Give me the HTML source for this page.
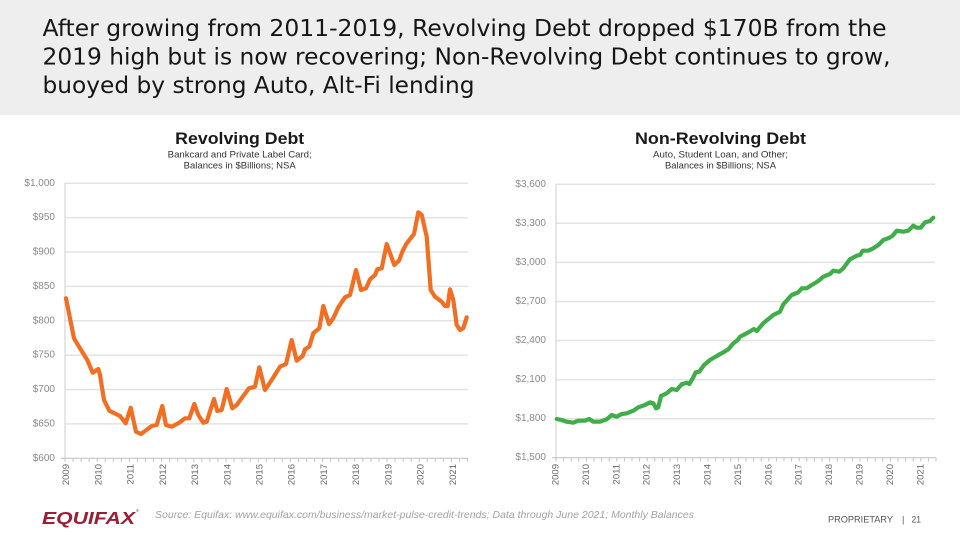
<!DOCTYPE html>
<html>
<head>
<meta charset="utf-8">
<style>
  html,body{margin:0;padding:0;background:#fff;}
  body{width:960px;height:540px;overflow:hidden;}
  svg{display:block;}
  text{font-family:"Liberation Sans",sans-serif;}
  text.h{font-family:"DejaVu Sans","Liberation Sans",sans-serif;}
</style>
</head>
<body>
<svg width="960" height="540" viewBox="0 0 960 540" xmlns="http://www.w3.org/2000/svg">
  <!-- header band -->
  <rect x="0" y="0" width="960" height="115" fill="#eeeeee"/>
  <g font-size="23" fill="#161616">
    <text class="h" x="42.5" y="36" textLength="844" lengthAdjust="spacingAndGlyphs">After growing from 2011-2019, Revolving Debt dropped $170B from the</text>
    <text class="h" x="42.5" y="64.5" textLength="848" lengthAdjust="spacingAndGlyphs">2019 high but is now recovering; Non-Revolving Debt continues to grow,</text>
    <text class="h" x="42.5" y="93" textLength="432" lengthAdjust="spacingAndGlyphs">buoyed by strong Auto, Alt-Fi lending</text>
  </g>

  <!-- LEFT CHART -->
  <text x="239.7" y="144" font-size="17" font-weight="bold" fill="#1a1a1a" text-anchor="middle" textLength="129" lengthAdjust="spacingAndGlyphs">Revolving Debt</text>
  <text x="239.7" y="157.5" font-size="9" fill="#333" text-anchor="middle" textLength="144" lengthAdjust="spacingAndGlyphs">Bankcard and Private Label Card;</text>
  <text x="239.7" y="168.5" font-size="9" fill="#333" text-anchor="middle" textLength="112" lengthAdjust="spacingAndGlyphs">Balances in $Billions; NSA</text>

  <g stroke="#e3e3e3" stroke-width="1.5">
    <line x1="65" y1="183.3" x2="468" y2="183.3"/>
    <line x1="65" y1="217.7" x2="468" y2="217.7"/>
    <line x1="65" y1="252" x2="468" y2="252"/>
    <line x1="65" y1="286.4" x2="468" y2="286.4"/>
    <line x1="65" y1="320.8" x2="468" y2="320.8"/>
    <line x1="65" y1="355.1" x2="468" y2="355.1"/>
    <line x1="65" y1="389.5" x2="468" y2="389.5"/>
    <line x1="65" y1="423.9" x2="468" y2="423.9"/>
  </g>
  <line x1="65" y1="183" x2="65" y2="458.3" stroke="#d6d6d6" stroke-width="1.2"/>
  <line x1="61" y1="458.3" x2="468" y2="458.3" stroke="#c4c4c4" stroke-width="1.2"/>
  <g font-size="10" fill="#8a8a8a" text-anchor="end" dominant-baseline="central">
    <text x="55" y="183.3">$1,000</text>
    <text x="55" y="217.7">$950</text>
    <text x="55" y="252">$900</text>
    <text x="55" y="286.4">$850</text>
    <text x="55" y="320.8">$800</text>
    <text x="55" y="355.1">$750</text>
    <text x="55" y="389.5">$700</text>
    <text x="55" y="423.9">$650</text>
    <text x="55" y="458.3">$600</text>
  </g>
  <path stroke="#c4c4c4" stroke-width="1" fill="none" d="
M65,458 v4 M73.05,458 v4 M81.1,458 v4 M89.15,458 v4 M97.2,458 v4 M105.25,458 v4 M113.3,458 v4 M121.35,458 v4 M129.4,458 v4 M137.45,458 v4
M145.5,458 v4 M153.55,458 v4 M161.6,458 v4 M169.65,458 v4 M177.7,458 v4 M185.75,458 v4 M193.8,458 v4 M201.85,458 v4 M209.9,458 v4 M217.95,458 v4
M226,458 v4 M234.05,458 v4 M242.1,458 v4 M250.15,458 v4 M258.2,458 v4 M266.25,458 v4 M274.3,458 v4 M282.35,458 v4 M290.4,458 v4 M298.45,458 v4
M306.5,458 v4 M314.55,458 v4 M322.6,458 v4 M330.65,458 v4 M338.7,458 v4 M346.75,458 v4 M354.8,458 v4 M362.85,458 v4 M370.9,458 v4 M378.95,458 v4
M387,458 v4 M395.05,458 v4 M403.1,458 v4 M411.15,458 v4 M419.2,458 v4 M427.25,458 v4 M435.3,458 v4 M443.35,458 v4 M451.4,458 v4 M459.45,458 v4 M467.5,458 v4"/>
  <g font-size="9.5" fill="#6b6b6b" text-anchor="end" dominant-baseline="central">
    <text transform="translate(66.7,464) rotate(-90)">2009</text>
    <text transform="translate(98.9,464) rotate(-90)">2010</text>
    <text transform="translate(131.1,464) rotate(-90)">2011</text>
    <text transform="translate(163.4,464) rotate(-90)">2012</text>
    <text transform="translate(195.6,464) rotate(-90)">2013</text>
    <text transform="translate(227.8,464) rotate(-90)">2014</text>
    <text transform="translate(260,464) rotate(-90)">2015</text>
    <text transform="translate(292.2,464) rotate(-90)">2016</text>
    <text transform="translate(324.5,464) rotate(-90)">2017</text>
    <text transform="translate(356.7,464) rotate(-90)">2018</text>
    <text transform="translate(388.9,464) rotate(-90)">2019</text>
    <text transform="translate(421.1,464) rotate(-90)">2020</text>
    <text transform="translate(453.3,464) rotate(-90)">2021</text>
  </g>
  <polyline fill="none" stroke="#f26e22" stroke-width="4.2" stroke-linejoin="round" stroke-linecap="round" points="
66,298.3 74,338.3 80,348.3 87.3,360 92.7,372.7 98.3,369 100,375 104,400 109.3,410.7 120,416 125.7,423.3 130.7,407.7 136,431.7 141,434
151.7,426 156.7,425 162.3,406 166,425 171.7,426.7 179.3,422.7 185,418.3 189.3,418.3 194.3,404 198.3,415 203.3,422.7 206.7,421.7 214,399
217.3,411 221.7,410 226.7,389 232.3,408.3 236.7,405 242.7,396.7 249,388.3 255,386.7 259.3,367.3 265,390 271.7,380 280,366.7 286,364
291.7,340 296.7,360.7 302.7,356 305,349.3 309.3,346.7 313.3,333.3 319.3,328.3 323.3,306 329,324 333.3,318.3 338.3,307.3 345,297.3 350,295
356,270 361,290 366,288.3 370,279.3 375,275 377.3,269.3 381.7,268.3 386.7,244 394.3,265 399,260.7 402.7,250.7 406.7,243.3 414,234
418.3,212.3 421.7,215 426.7,236.7 430.7,290 435,296.7 441.7,301.7 445,306 447.7,306 450,289.3 453.3,300 456.7,325 460,330 463.3,328.3 466.7,317.3"/>

  <!-- RIGHT CHART -->
  <text x="720.5" y="144" font-size="17" font-weight="bold" fill="#1a1a1a" text-anchor="middle" textLength="171" lengthAdjust="spacingAndGlyphs">Non-Revolving Debt</text>
  <text x="720.5" y="157.5" font-size="9" fill="#333" text-anchor="middle" textLength="135" lengthAdjust="spacingAndGlyphs">Auto, Student Loan, and Other;</text>
  <text x="720.5" y="168.5" font-size="9" fill="#333" text-anchor="middle" textLength="111" lengthAdjust="spacingAndGlyphs">Balances in $Billions; NSA</text>

  <g stroke="#e3e3e3" stroke-width="1.5">
    <line x1="556" y1="184.3" x2="935" y2="184.3"/>
    <line x1="556" y1="223.3" x2="935" y2="223.3"/>
    <line x1="556" y1="262.4" x2="935" y2="262.4"/>
    <line x1="556" y1="301.5" x2="935" y2="301.5"/>
    <line x1="556" y1="340.5" x2="935" y2="340.5"/>
    <line x1="556" y1="379.6" x2="935" y2="379.6"/>
    <line x1="556" y1="418.7" x2="935" y2="418.7"/>
  </g>
  <line x1="556" y1="184" x2="556" y2="457.7" stroke="#d6d6d6" stroke-width="1.2"/>
  <line x1="552" y1="457.7" x2="935.5" y2="457.7" stroke="#c4c4c4" stroke-width="1.2"/>
  <g font-size="10" fill="#8a8a8a" text-anchor="end" dominant-baseline="central">
    <text x="546" y="184.3">$3,600</text>
    <text x="546" y="223.3">$3,300</text>
    <text x="546" y="262.4">$3,000</text>
    <text x="546" y="301.5">$2,700</text>
    <text x="546" y="340.5">$2,400</text>
    <text x="546" y="379.6">$2,100</text>
    <text x="546" y="418.7">$1,800</text>
    <text x="546" y="457.7">$1,500</text>
  </g>
  <path stroke="#c4c4c4" stroke-width="1" fill="none" d="
M556,457.5 v4 M563.6,457.5 v4 M571.2,457.5 v4 M578.8,457.5 v4 M586.4,457.5 v4 M594,457.5 v4 M601.6,457.5 v4 M609.2,457.5 v4 M616.8,457.5 v4 M624.4,457.5 v4
M632,457.5 v4 M639.6,457.5 v4 M647.2,457.5 v4 M654.8,457.5 v4 M662.4,457.5 v4 M670,457.5 v4 M677.6,457.5 v4 M685.2,457.5 v4 M692.8,457.5 v4 M700.4,457.5 v4
M708,457.5 v4 M715.6,457.5 v4 M723.2,457.5 v4 M730.8,457.5 v4 M738.4,457.5 v4 M746,457.5 v4 M753.6,457.5 v4 M761.2,457.5 v4 M768.8,457.5 v4 M776.4,457.5 v4
M784,457.5 v4 M791.6,457.5 v4 M799.2,457.5 v4 M806.8,457.5 v4 M814.4,457.5 v4 M822,457.5 v4 M829.6,457.5 v4 M837.2,457.5 v4 M844.8,457.5 v4 M852.4,457.5 v4
M860,457.5 v4 M867.6,457.5 v4 M875.2,457.5 v4 M882.8,457.5 v4 M890.4,457.5 v4 M898,457.5 v4 M905.6,457.5 v4 M913.2,457.5 v4 M920.8,457.5 v4 M928.4,457.5 v4 M936,457.5 v4"/>
  <g font-size="9.5" fill="#6b6b6b" text-anchor="end" dominant-baseline="central">
    <text transform="translate(556,464) rotate(-90)">2009</text>
    <text transform="translate(586.4,464) rotate(-90)">2010</text>
    <text transform="translate(616.8,464) rotate(-90)">2011</text>
    <text transform="translate(647.2,464) rotate(-90)">2012</text>
    <text transform="translate(677.6,464) rotate(-90)">2013</text>
    <text transform="translate(708,464) rotate(-90)">2014</text>
    <text transform="translate(738.4,464) rotate(-90)">2015</text>
    <text transform="translate(768.8,464) rotate(-90)">2016</text>
    <text transform="translate(799.2,464) rotate(-90)">2017</text>
    <text transform="translate(829.6,464) rotate(-90)">2018</text>
    <text transform="translate(860,464) rotate(-90)">2019</text>
    <text transform="translate(890.4,464) rotate(-90)">2020</text>
    <text transform="translate(920.8,464) rotate(-90)">2021</text>
  </g>
  <polyline fill="none" stroke="#3fae49" stroke-width="4.2" stroke-linejoin="round" stroke-linecap="round" points="
556.7,419 561.7,420 566.7,421.7 573.3,422.7 578.3,420.7 585,420.7 589.3,419 593.3,421.7 600,421.7 606.7,419.3 611.7,415 616.7,416.7
621.7,414 626.7,413.3 633.3,410.7 638.3,407.3 645,405 650,402.3 653.3,403.3 656,408.3 658.3,407.3 661,396 666.7,393.3 671.7,389
676.7,390 681.7,384.3 686.7,382.7 689.3,384 692.7,378.3 695.7,372.3 699.3,371.7 704,365 710,360 716.7,356 723.3,352.3 728.3,349.3
732.7,344 738.3,339.3 740,336.7 746.7,333.3 754,329 756.7,331 763.3,323.3 773.3,315 780,311.7 783.3,304.3 791.7,295 798.3,292.3
801.7,288.3 806.7,288.3 811.7,285 818.3,281 823.3,276.7 830,274 833.3,270.7 839.3,271.7 843.3,268.3 850,259.3 856.7,255.7 860,255
862.7,250.7 868.3,250.7 873.3,248.3 878.3,245 883.3,240 888.3,238.3 892.7,235.7 896.7,230.7 903.3,231.7 908.3,230.7 913.3,225.7
916.7,227.7 920.7,227.7 925,222.3 930,221 933.3,217.7"/>

  <!-- FOOTER -->
  <text x="42" y="524" font-size="17.5" font-weight="bold" font-style="italic" fill="#9d1d34" textLength="93" lengthAdjust="spacingAndGlyphs">EQUIFAX</text>
  <text x="136" y="512" font-size="4" fill="#9d1d34">®</text>
  <text x="155" y="518" font-size="10.5" font-style="italic" fill="#a3a3a3" textLength="539" lengthAdjust="spacingAndGlyphs">Source: Equifax: www.equifax.com/business/market-pulse-credit-trends; Data through June 2021; Monthly Balances</text>
  <text x="828" y="522.5" font-size="9" fill="#555" textLength="65" lengthAdjust="spacingAndGlyphs">PROPRIETARY</text>
  <text x="902" y="522.5" font-size="9" fill="#555">|</text>
  <text x="911.5" y="522.5" font-size="9" fill="#555" textLength="9.5" lengthAdjust="spacingAndGlyphs">21</text>
</svg>
</body>
</html>
